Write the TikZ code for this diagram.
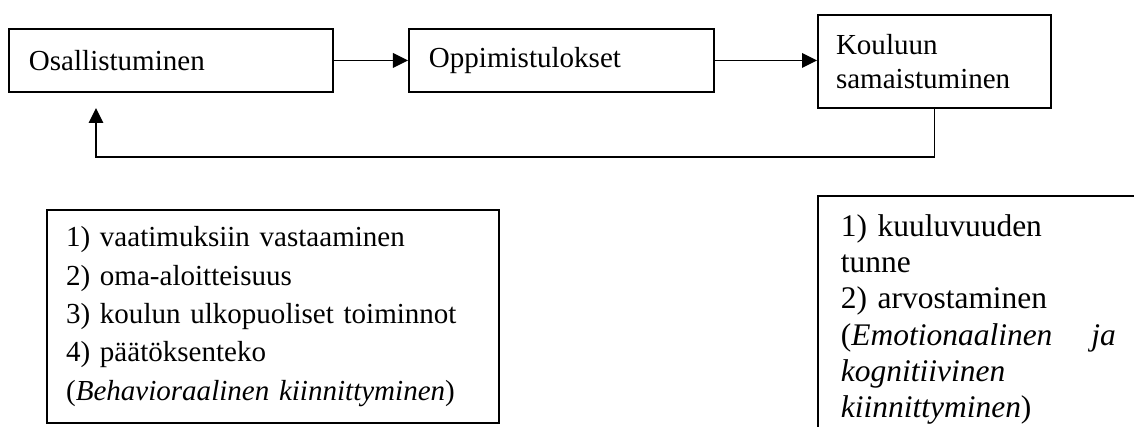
\documentclass[tikz,border=0pt]{standalone}
\usepackage{fontspec}
\setmainfont{Liberation Serif}
\usetikzlibrary{arrows.meta}

\begin{document}
\begin{tikzpicture}[x=0.4132pt, y=-0.4132pt,
    font=\fontsize{12}{13.8}\selectfont,
    box/.style={draw, line width=0.8pt, anchor=north west, align=left, inner ysep=0pt},
    conn/.style={line width=0.65pt, -{Triangle[length=6.2pt, width=6pt]}}]
  \useasboundingbox (0,0) rectangle (1134,427);
  \clip (0,0) rectangle (1134,427);

  % Top row
  \node[box, minimum width=133.9pt, minimum height=26pt, inner xsep=8.26pt,
        text width=117.4pt] (osall) at (8,28) {Osallistuminen};
  \node[box, minimum width=126pt, minimum height=26pt, inner xsep=8.26pt,
        text width=109.5pt] (oppim) at (408,28) {Oppimistulokset};
  \node[box, minimum width=96.3pt, minimum height=38.4pt, inner xsep=7.44pt,
        text width=81.4pt] (koulu) at (817,14) {Kouluun\\samaistuminen};

  % Arrows
  \draw[conn] (osall) -- (oppim);
  \draw[conn] (oppim.east) -- (oppim.east -| koulu.west);

  % Feedback
  \coordinate (fbtip) at (96,108);
  \draw[conn] (koulu.south) -- ++(0,48) -| (fbtip);

  % Lower boxes
  \node[box, minimum width=186.8pt, minimum height=88pt, inner xsep=7.85pt,
        text width=171pt, font=\fontsize{12}{15.84}\selectfont] (behav) at (46,209)
        {1) vaatimuksiin vastaaminen\\
         2) oma-aloitteisuus\\
         3) koulun ulkopuoliset toiminnot\\
         4) päätöksenteko\\
         (\textit{Behavioraalinen kiinnittyminen})};
  \node[box, inner xsep=9.5pt, inner ysep=7.6pt, text width=113.6pt,
        font=\fontsize{13}{15}\selectfont] (emot) at (817,195)
        {1) kuuluvuuden\\
         tunne\\
         2) arvostaminen\\
         (\textit{Emotionaalinen}\hfill\textit{ja}\\
         \textit{kognitiivinen}\\
         \textit{kiinnittyminen})};
\end{tikzpicture}
\end{document}
